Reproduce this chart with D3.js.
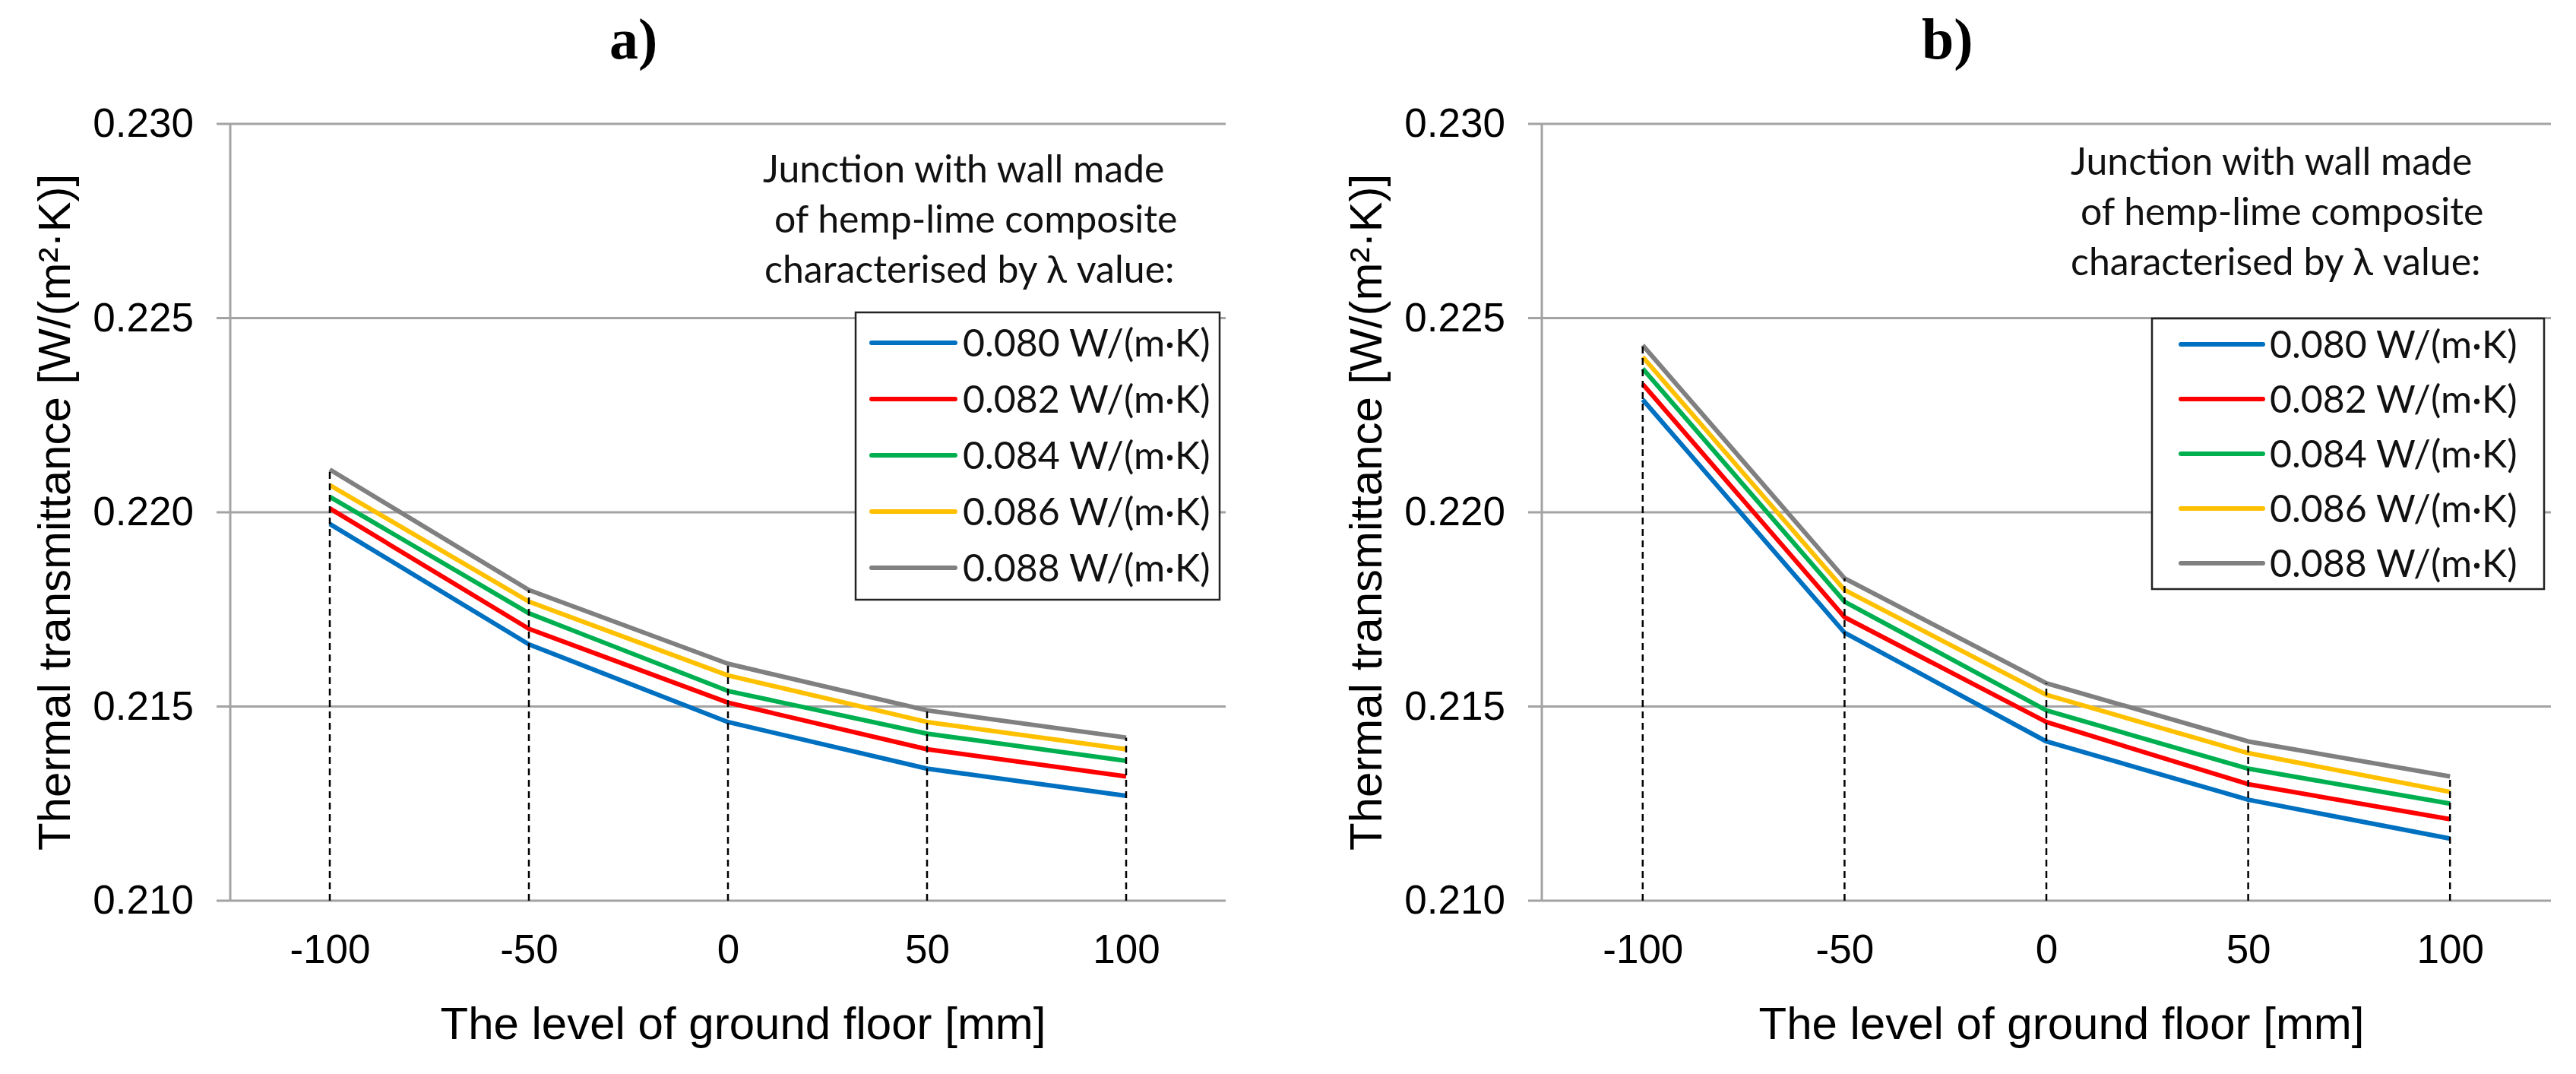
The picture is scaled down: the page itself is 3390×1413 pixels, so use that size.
<!DOCTYPE html>
<html>
<head>
<meta charset="utf-8">
<script src="https://cdn.jsdelivr.net/npm/d3@7"></script>
<style>
  body { margin: 0; background: #fff; }
  text { white-space: pre; }
</style>
</head>
<body>
<script>
// ground floor level [mm]
var categories = [-100, -50, 0, 50, 100];
var yTicks = [0.210, 0.215, 0.220, 0.225, 0.230];
var lambdaLabels = ["0.080 W/(m\u00b7K)", "0.082 W/(m\u00b7K)", "0.084 W/(m\u00b7K)", "0.086 W/(m\u00b7K)", "0.088 W/(m\u00b7K)"];
var seriesColors = ["#0070C0", "#FF0000", "#00B050", "#FFC000", "#808080"];
var noteLines = ["Junction with wall made", "of hemp-lime composite", "characterised by \u03bb value:"];

// a) one row per lambda value
var valuesA = [
  [0.2197, 0.2166, 0.2146, 0.2134, 0.2127],
  [0.2201, 0.2170, 0.2151, 0.2139, 0.2132],
  [0.2204, 0.2174, 0.2154, 0.2143, 0.2136],
  [0.2207, 0.2177, 0.2158, 0.2146, 0.2139],
  [0.2211, 0.2180, 0.2161, 0.2149, 0.2142]
];
// b)
var valuesB = [
  [0.2229, 0.2169, 0.2141, 0.2126, 0.2116],
  [0.2233, 0.2173, 0.2146, 0.2130, 0.2121],
  [0.2237, 0.2177, 0.2149, 0.2134, 0.2125],
  [0.2240, 0.2180, 0.2153, 0.2138, 0.2128],
  [0.2243, 0.2183, 0.2156, 0.2141, 0.2132]
];

var w = 3390, h = 1413;
var sans = "'Liberation Sans', Arial, sans-serif";
var calib = "Lato, 'Open Sans', sans-serif";

var svg = d3.select("body").append("svg")
  .attr("width", w)
  .attr("height", h);

var y = d3.scaleLinear().domain([0.210, 0.230]).range([1185, 163]);

var panels = [
  { title: "a)", titleX: 802, left: 303, right: 1613, yTitleX: 92, values: valuesA,
    note: { x: 1004, y: 240, step: 66, indent: [0, 15, 2] },
    legend: { x: 1126, y: 411, w: 479, h: 378, row0: 451, step: 74, lx: 1147, lw: 110, tx: 1267 } },
  { title: "b)", titleX: 2529, left: 2029, right: 3357, yTitleX: 1818, values: valuesB,
    note: { x: 2725, y: 230, step: 66, indent: [0, 13, 0] },
    legend: { x: 2832, y: 419, w: 516, h: 356, row0: 453, step: 72, lx: 2870, lw: 108, tx: 2987 } }
];

panels.forEach(function(p) {
  var x = d3.scalePoint().domain(categories).range([p.left, p.right]).padding(0.5);
  var g = svg.append("g");

  // gridlines (stick out a bit left of the axis like tick marks)
  g.selectAll("line.grid").data(yTicks).join("line")
    .attr("class", "grid")
    .attr("x1", p.left - 18).attr("x2", p.right)
    .attr("y1", function(d) { return y(d); })
    .attr("y2", function(d) { return y(d); })
    .attr("stroke", "#a3a3a3").attr("stroke-width", 3);

  g.append("line")
    .attr("x1", p.left).attr("x2", p.left)
    .attr("y1", y(0.230)).attr("y2", y(0.210))
    .attr("stroke", "#a3a3a3").attr("stroke-width", 3);

  // y tick labels
  var ya = g.append("g")
    .attr("transform", "translate(" + p.left + ",0)")
    .call(d3.axisLeft(y).tickValues(yTicks).tickFormat(d3.format(".3f")).tickSize(0).tickPadding(48));
  ya.select(".domain").remove();
  ya.attr("font-size", 53).attr("font-family", sans);
  ya.selectAll("text").attr("fill", "#000");

  // x tick labels
  var xa = g.append("g")
    .attr("transform", "translate(0," + y(0.210) + ")")
    .call(d3.axisBottom(x).tickSize(0).tickPadding(44));
  xa.select(".domain").remove();
  xa.attr("font-size", 53).attr("font-family", sans);
  xa.selectAll("text").attr("fill", "#000");

  // series
  var line = d3.line()
    .x(function(d, i) { return x(categories[i]); })
    .y(function(d) { return y(d); });

  g.selectAll("path.series").data(p.values).join("path")
    .attr("class", "series")
    .attr("d", line)
    .attr("fill", "none")
    .attr("stroke", function(d, i) { return seriesColors[i]; })
    .attr("stroke-width", 6)
    .attr("stroke-linejoin", "round");

  // dashed drop lines to the highest point of each category
  g.selectAll("line.drop").data(categories).join("line")
    .attr("class", "drop")
    .attr("x1", function(d) { return x(d); })
    .attr("x2", function(d) { return x(d); })
    .attr("y1", y(0.210))
    .attr("y2", function(d, i) { return y(d3.max(p.values, function(s) { return s[i]; })); })
    .attr("stroke", "#000").attr("stroke-width", 2.5)
    .attr("stroke-dasharray", "9,6");

  // axis titles
  g.append("text")
    .attr("transform", "translate(" + p.yTitleX + "," + ((y(0.230) + y(0.210)) / 2) + ") rotate(-90)")
    .attr("text-anchor", "middle")
    .attr("font-family", sans).attr("font-size", 60)
    .text("Thermal transmittance [W/(m\u00b2\u00b7K)]");

  g.append("text")
    .attr("x", (p.left + p.right) / 2 + 20).attr("y", 1367)
    .attr("text-anchor", "middle")
    .attr("font-family", sans).attr("font-size", 60)
    .text("The level of ground floor [mm]");

  // panel title
  g.append("text")
    .attr("x", p.titleX).attr("y", 77)
    .attr("font-family", "'Liberation Serif', 'Times New Roman', serif")
    .attr("font-weight", "bold").attr("font-size", 76)
    .text(p.title);

  // legend caption
  g.selectAll("text.note").data(noteLines).join("text")
    .attr("class", "note")
    .attr("x", function(d, i) { return p.note.x + p.note.indent[i]; })
    .attr("y", function(d, i) { return p.note.y + i * p.note.step; })
    .attr("font-family", calib).attr("font-size", 50).attr("fill", "#111")
    .text(function(d) { return d; });

  // legend box
  var L = p.legend;
  g.append("rect")
    .attr("x", L.x).attr("y", L.y).attr("width", L.w).attr("height", L.h)
    .attr("fill", "#fff").attr("stroke", "#222").attr("stroke-width", 2.5);

  var rows = g.selectAll("g.leg").data(lambdaLabels).join("g")
    .attr("class", "leg")
    .attr("transform", function(d, i) { return "translate(0," + (L.row0 + i * L.step) + ")"; });
  rows.append("line")
    .attr("x1", L.lx).attr("x2", L.lx + L.lw)
    .attr("stroke", function(d, i) { return seriesColors[i]; })
    .attr("stroke-width", 6).attr("stroke-linecap", "round");
  rows.append("text")
    .attr("x", L.tx).attr("dy", "0.36em")
    .attr("font-family", calib).attr("font-size", 50).attr("fill", "#111")
    .text(function(d) { return d; });
});
</script>
</body>
</html>
